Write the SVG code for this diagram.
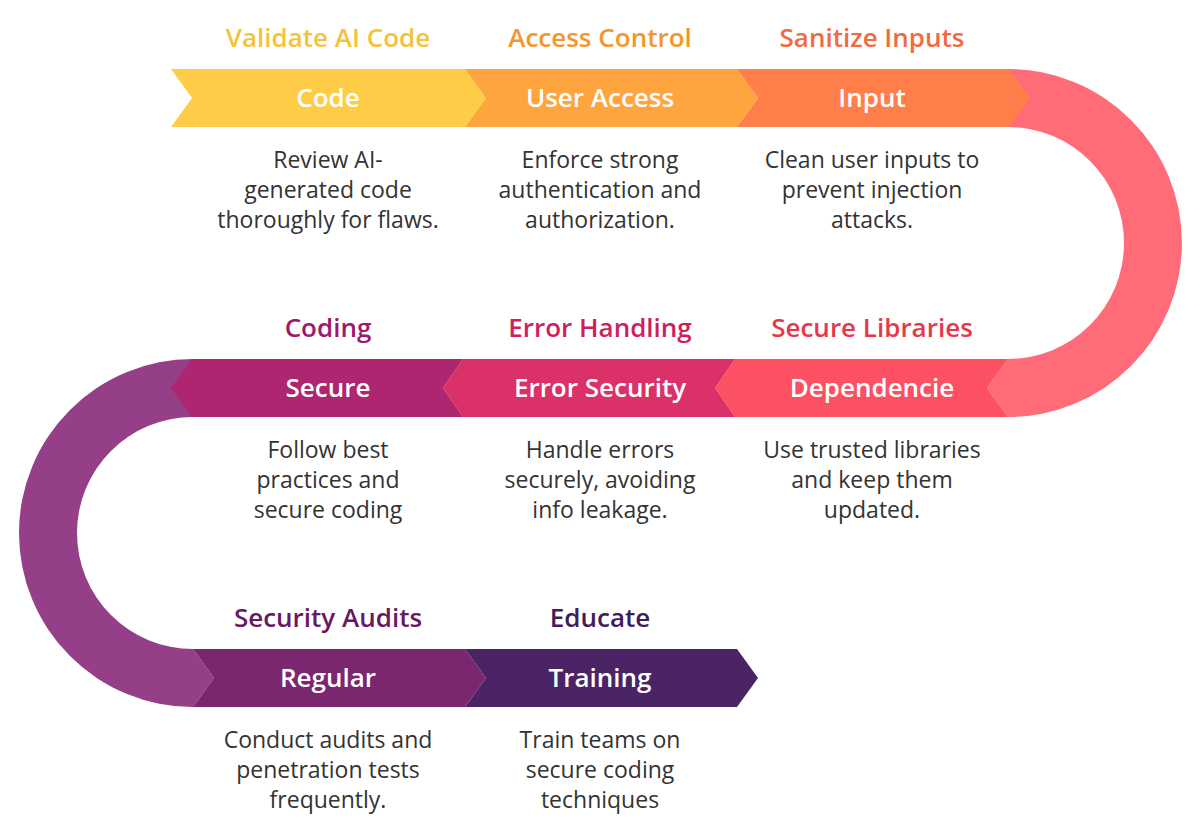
<svg xmlns="http://www.w3.org/2000/svg" width="1200" height="835" viewBox="0 0 1200 835">
<style>
.t{font-family:"Open Sans","Noto Sans","Liberation Sans",sans-serif;font-weight:600;font-size:26px;text-anchor:middle}
.w{fill:#ffffff}
.b{font-family:"Open Sans","Noto Sans","Liberation Sans",sans-serif;font-weight:400;font-size:23px;text-anchor:middle;fill:#333333}
</style>
<rect width="1200" height="835" fill="#ffffff"/>
<g id="connectors">
<path id="arc-right" d="M1000,69 L1008,69 A174,174 0 0 1 1008,417 L987,388 L1008,359 A116,116 0 0 0 1008,127 L1000,127 Z" fill="#FF6B77"/>
<path id="arc-left" d="M200,359 L193,359 A174,174 0 0 0 193,707 L214,678 L193,649 A116,116 0 0 1 193,417 L200,417 Z" fill="#943F88"/>
</g>
<g id="node-code">
<polygon points="171,69 465,69 486,98 465,127 171,127 192,98" fill="#FECC47"/>
<text class="t w" x="328" y="107">Code</text>
<text class="t" x="328" y="47" fill="#F5C23C">Validate AI Code</text>
<text class="b" x="328" y="168">Review AI-</text>
<text class="b" x="328" y="198">generated code</text>
<text class="b" x="328" y="228">thoroughly for flaws.</text>
</g>
<g id="node-access">
<polygon points="465,69 737,69 758,98 737,127 465,127 486,98" fill="#FEA53F"/>
<text class="t w" x="600" y="107">User Access</text>
<text class="t" x="600" y="47" fill="#F2962E">Access Control</text>
<text class="b" x="600" y="168">Enforce strong</text>
<text class="b" x="600" y="198">authentication and</text>
<text class="b" x="600" y="228">authorization.</text>
</g>
<g id="node-input">
<polygon points="737,69 1009,69 1030,98 1009,127 737,127 758,98" fill="#FF7E4A"/>
<text class="t w" x="872" y="107">Input</text>
<text class="t" x="872" y="47" fill="#F26A3E">Sanitize Inputs</text>
<text class="b" x="872" y="168">Clean user inputs to</text>
<text class="b" x="872" y="198">prevent injection</text>
<text class="b" x="872" y="228">attacks.</text>
</g>
<g id="node-dependencies">
<polygon points="735,359 1008,359 987,388 1008,417 735,417 715,388" fill="#FC5162"/>
<text class="t w" x="872" y="397">Dependencie</text>
<text class="t" x="872" y="337" fill="#E8374A">Secure Libraries</text>
<text class="b" x="872" y="458">Use trusted libraries</text>
<text class="b" x="872" y="488">and keep them</text>
<text class="b" x="872" y="518">updated.</text>
</g>
<g id="node-error">
<polygon points="463,359 735,359 715,388 735,417 463,417 443,388" fill="#DB3169"/>
<text class="t w" x="600" y="397">Error Security</text>
<text class="t" x="600" y="337" fill="#D11D5F">Error Handling</text>
<text class="b" x="600" y="458">Handle errors</text>
<text class="b" x="600" y="488">securely, avoiding</text>
<text class="b" x="600" y="518">info leakage.</text>
</g>
<g id="node-secure">
<polygon points="192,359 463,359 443,388 463,417 192,417 171,388" fill="#AF2670"/>
<text class="t w" x="328" y="397">Secure</text>
<text class="t" x="328" y="337" fill="#A1176A">Coding</text>
<text class="b" x="328" y="458">Follow best</text>
<text class="b" x="328" y="488">practices and</text>
<text class="b" x="328" y="518">secure coding</text>
</g>
<g id="node-regular">
<polygon points="193,649 465,649 486,678 465,707 193,707 214,678" fill="#7B2770"/>
<text class="t w" x="328" y="687">Regular</text>
<text class="t" x="328" y="627" fill="#6A1764">Security Audits</text>
<text class="b" x="328" y="748">Conduct audits and</text>
<text class="b" x="328" y="778">penetration tests</text>
<text class="b" x="328" y="808">frequently.</text>
</g>
<g id="node-training">
<polygon points="465,649 737,649 758,678 737,707 465,707 486,678" fill="#4B2465"/>
<text class="t w" x="600" y="687">Training</text>
<text class="t" x="600" y="627" fill="#411B5C">Educate</text>
<text class="b" x="600" y="748">Train teams on</text>
<text class="b" x="600" y="778">secure coding</text>
<text class="b" x="600" y="808">techniques</text>
</g>
</svg>
